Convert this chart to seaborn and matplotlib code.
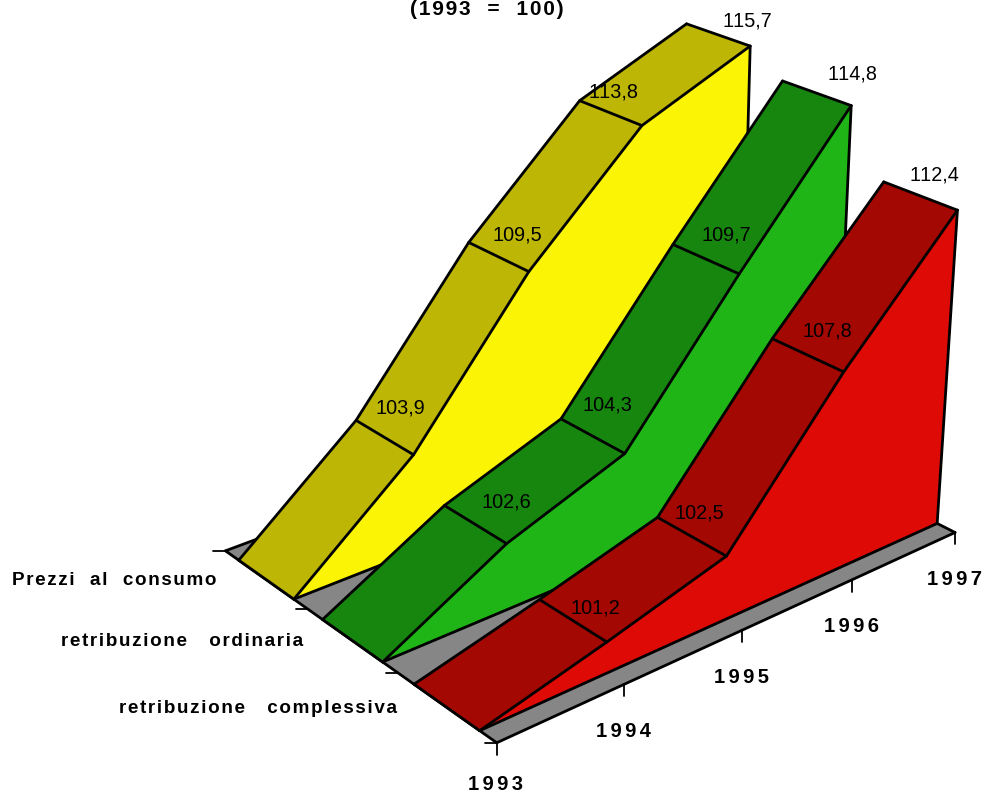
#!/usr/bin/env python3
import numpy as np
import pandas as pd
import matplotlib
matplotlib.use('Agg')
import matplotlib.pyplot as plt
import seaborn as sns

# Indices 1993 = 100
years = [1993, 1994, 1995, 1996, 1997]
series_names = ['retribuzione   complessiva', 'retribuzione   ordinaria', 'Prezzi  al  consumo']
complessiva = [100, 101.2, 102.5, 107.8, 112.4]
ordinaria = [100, 102.6, 104.3, 109.7, 114.8]
prezzi = [100, 103.9, 109.5, 113.8, 115.7]

series_values = [complessiva, ordinaria, prezzi]
face_colors = ['#DE0A05', '#1FB516', '#FBF404']
ribbon_colors = ['#A30803', '#16860F', '#BDB604']
FLOOR_COLOR = '#868686'

# label offsets from the ribbon middle, in pixels (x, up)
label_offsets = [
    [None, (22, 13), (7, 24), (19, 24), (14, 21)],
    [None, (31, 23), (15, 31), (20, 24), (36, 19)],
    [None, (16, 30), (19, 22), (3, 21), (29, 14)],
]

# perspective camera: (year index, series slot, index - 100) -> picture pixels
CAMERA = np.array([
    [151.722461, -79.817105, -3.126009, 496.764599],
    [-31.856583, -38.037297, -30.497566, 742.76888],
    [0.038897, 0.047106, -0.00525, 1.0],
])
GAP = 1 / 6
LW = 2.0
HAIR = '\u200a'
SIX_PER_EM = '\u2006'


def project(t, s, z):
    world = np.column_stack([t, s, z, np.ones(len(t))])
    q = world @ CAMERA.T
    return q[:, 0] / q[:, 2], q[:, 1] / q[:, 2]


def spaced(text, sep=HAIR):
    return sep.join(text)


def outline(ax, edges, zorder, lw=LW):
    """edges: list of (t, s, z) arrays, one per line, drawn through seaborn."""
    frames = []
    for i, (t, s, z) in enumerate(edges):
        px, py = project(np.asarray(t, float), np.asarray(s, float), np.asarray(z, float))
        frames.append(pd.DataFrame({'px': px, 'py': py, 'edge': i}))
    sns.lineplot(data=pd.concat(frames), x='px', y='py', units='edge', estimator=None,
                 sort=False, color='black', linewidth=lw, zorder=zorder, ax=ax, legend=False)


def draw_floor(ax, n_slots, n_years):
    last = n_years - 1
    px, py = project(np.array([0, last, last, 0.]), np.array([0, 0, n_slots, float(n_slots)]),
                     np.zeros(4))
    ax.fill(px, py, color=FLOOR_COLOR, zorder=1, linewidth=0)
    outline(ax, [
        ([0, last], [0, 0], [0, 0]),
        ([0, 0], [0, n_slots], [0, 0]),
        ([0, last], [n_slots, n_slots], [0, 0]),
        ([last, last], [0, GAP], [0, 0]),
    ], zorder=1.5)
    # left ticks at the slot limits, bottom ticks at the years
    for slot in range(n_slots + 1):
        x, y = project(np.array([0.]), np.array([float(slot)]), np.array([0.]))
        ax.plot([x[0] - 12, x[0]], [y[0], y[0]], color='black', lw=1.3, zorder=1.5)
    for t in range(n_years):
        x, y = project(np.array([float(t)]), np.array([0.]), np.array([0.]))
        ax.plot([x[0], x[0]], [y[0], y[0] + 12], color='black', lw=1.3, zorder=1.5)
        # keep 1993 inside the picture
        ax.text(x[0] - 1, min(y[0] + 47, 785), spaced(str(years[t]), SIX_PER_EM), ha='center', va='center',
                fontsize=14.5, fontweight='bold', zorder=20)


def draw_series(ax, slot, values, face, ribbon, offsets):
    t = np.arange(len(values), dtype=float)
    z = np.asarray(values, float) - 100
    front = np.full(len(t), slot + GAP)
    back = np.full(len(t), slot + 1 - GAP)
    zorder = 10 - 2 * slot

    # bright side face down to the floor
    px, py = project(t, front, z)
    bx, by = project(t, front, np.zeros(len(t)))
    ax.fill(np.r_[px, bx[-1], bx[0]], np.r_[py, by[-1], by[0]], color=face, zorder=zorder, linewidth=0)

    # dark top ribbon
    qx, qy = project(t, back, z)
    ax.fill(np.r_[px, qx[::-1]], np.r_[py, qy[::-1]], color=ribbon, zorder=zorder, linewidth=0)

    edges = [(t, front, z), (t, back, z),
             ([t[0], t[-1]], [slot + GAP, slot + GAP], [0, 0]),
             ([t[-1], t[-1]], [slot + GAP, slot + GAP], [z[-1], 0])]
    for i in range(len(t)):
        edges.append(([t[i], t[i]], [slot + GAP, slot + 1 - GAP], [z[i], z[i]]))
    outline(ax, edges, zorder=zorder + 0.5)

    for i, offset in enumerate(offsets):
        if offset is None:
            continue
        ax.annotate(f'{values[i]:.1f}'.replace('.', ','),
                    ((px[i] + qx[i]) / 2, (py[i] + qy[i]) / 2), xytext=offset,
                    textcoords='offset pixels', ha='center', va='center',
                    fontsize=14.3, zorder=20)


sns.set_theme(style='white')
plt.rcParams['font.family'] = ['Liberation Sans', 'DejaVu Sans']
plt.rcParams['text.color'] = 'black'
plt.rcParams['text.kerning_factor'] = 6

fig = plt.figure(figsize=(9.83, 7.96), dpi=100)
ax = fig.add_axes([0, 0, 1, 1])

n_slots = len(series_values)
draw_floor(ax, n_slots, len(years))
for slot, values in enumerate(series_values):
    draw_series(ax, slot, values, face_colors[slot], ribbon_colors[slot], label_offsets[slot])

# series names, right aligned left of the floor edge
for slot, name in enumerate(series_names):
    x, y = project(np.array([0.]), np.array([slot + 0.5]), np.array([0.]))
    ax.annotate(spaced(name), (x[0], y[0]), xytext=(-49, -1), textcoords='offset pixels',
                ha='right', va='center', fontsize=13.6, fontweight='bold', zorder=20)

ax.text(487, 15, spaced('(1993  =  100)'), ha='center', va='baseline',
        fontsize=15, fontweight='bold', zorder=20)

ax.set_xlim(0, 983)
ax.set_ylim(796, 0)
ax.axis('off')

fig.savefig('out.png', dpi=100)
